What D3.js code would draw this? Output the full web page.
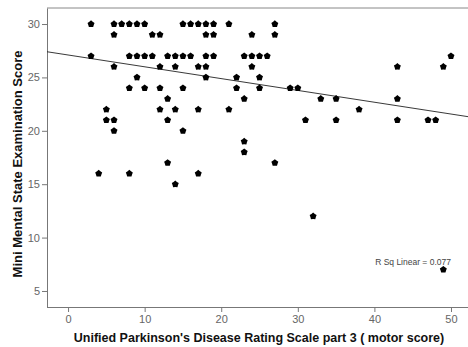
<!DOCTYPE html>
<html>
<head>
<meta charset="utf-8">
<script src="https://cdn.jsdelivr.net/npm/d3@7"></script>
<style>
  body { margin: 0; background: #fff; }
  svg { display: block; font-family: "Liberation Sans", Arial, sans-serif; }
  .axis path, .axis line { stroke: #777; }
  .axis text { fill: #666; font-size: 11px; }
</style>
</head>
<body>
<div id="chart"></div>
<script>
// UPDRS part 3 (motor score) vs MMSE, one entry per patient
var updrs = [3, 6, 7, 8, 9, 10, 15, 16, 17, 18, 19, 21, 27,
             6, 11, 12, 18, 19, 24, 27,
             3, 8, 9, 10, 11, 13, 14, 15, 16, 18, 19, 23, 24, 25, 26, 50,
             6, 12, 14, 17, 18, 24, 43, 49,
             9, 18, 22, 25,
             8, 10, 12, 15, 22, 25, 29, 30,
             13, 23, 33, 35, 43,
             5, 12, 14, 17, 21, 38,
             5, 6, 13, 31, 35, 43, 47, 48,
             6, 15,
             23, 23,
             13, 27,
             4, 8, 17,
             14, 32, 49];
var mmse = [30, 30, 30, 30, 30, 30, 30, 30, 30, 30, 30, 30, 30,
            29, 29, 29, 29, 29, 29, 29,
            27, 27, 27, 27, 27, 27, 27, 27, 27, 27, 27, 27, 27, 27, 27, 27,
            26, 26, 26, 26, 26, 26, 26, 26,
            25, 25, 25, 25,
            24, 24, 24, 24, 24, 24, 24, 24,
            23, 23, 23, 23, 23,
            22, 22, 22, 22, 22, 22,
            21, 21, 21, 21, 21, 21, 21, 21,
            20, 20,
            19, 18,
            17, 17,
            16, 16, 16,
            15, 12, 7];
var xTicks = [0, 10, 20, 30, 40, 50];
var yTicks = [5, 10, 15, 20, 25, 30];
// linear fit
var fitIntercept = 27.10;
var fitSlope = -0.1106;
var rSqLabel = "R Sq Linear = 0.077";

var width = 468, height = 347;
var margin = {top: 8, left: 47, bottom: 40};

var svg = d3.select("#chart").append("svg")
  .attr("width", width)
  .attr("height", height);

var x = d3.scaleLinear().domain([-2.75, 52.3]).range([margin.left, 468.6]);
var y = d3.scaleLinear().domain([3.5, 31.5]).range([height - margin.bottom, margin.top]);

// frame top line
svg.append("line")
  .attr("x1", margin.left).attr("x2", width)
  .attr("y1", y(31.5)).attr("y2", y(31.5))
  .attr("stroke", "#888");

var xAxis = svg.append("g")
  .attr("class", "axis")
  .attr("transform", "translate(0," + y(3.5) + ")")
  .call(d3.axisBottom(x).tickValues(xTicks).tickSize(5).tickPadding(3).tickSizeOuter(0));
xAxis.select(".domain").attr("d", "M" + margin.left + ",0.5H" + width);

svg.append("g")
  .attr("class", "axis")
  .attr("transform", "translate(" + margin.left + ",0)")
  .call(d3.axisLeft(y).tickValues(yTicks).tickSize(5).tickPadding(2).tickSizeOuter(0));

// regression line
var xs = x.domain();
svg.append("line")
  .attr("x1", x(xs[0])).attr("y1", y(fitIntercept + fitSlope * xs[0]))
  .attr("x2", x(xs[1])).attr("y2", y(fitIntercept + fitSlope * xs[1]))
  .attr("stroke", "#222")
  .attr("stroke-width", 0.9);

// pentagon-ish star marker
var marker = {
  draw: function(ctx, size) {
    var r = Math.sqrt(size) / 2, ri = r * 0.78;
    for (var i = 0; i < 10; i++) {
      var a = -Math.PI / 2 + i * Math.PI / 5;
      var rr = i % 2 ? ri : r;
      if (i == 0) ctx.moveTo(rr * Math.cos(a), rr * Math.sin(a));
      else ctx.lineTo(rr * Math.cos(a), rr * Math.sin(a));
    }
    ctx.closePath();
  }
};

svg.append("g").selectAll("path")
  .data(updrs)
  .enter().append("path")
    .attr("transform", (d, i) => "translate(" + x(d) + "," + y(mmse[i]) + ")")
    .attr("d", d3.symbol().type(marker).size(54))
    .attr("fill", "#000");

svg.append("text")
  .attr("x", x(50))
  .attr("y", y(7.4))
  .attr("text-anchor", "end")
  .attr("font-size", "8.5px")
  .attr("fill", "#444")
  .text(rSqLabel);

// axis titles
svg.append("text")
  .attr("x", 259)
  .attr("y", 342)
  .attr("text-anchor", "middle")
  .attr("font-size", "12.5px")
  .attr("font-weight", "bold")
  .attr("fill", "#111")
  .text("Unified Parkinson's Disease Rating Scale part 3 ( motor score)");

svg.append("text")
  .attr("transform", "translate(22,164) rotate(-90)")
  .attr("text-anchor", "middle")
  .attr("font-size", "13px")
  .attr("font-weight", "bold")
  .attr("fill", "#111")
  .text("Mini Mental State Examination Score");
</script>
</body>
</html>
